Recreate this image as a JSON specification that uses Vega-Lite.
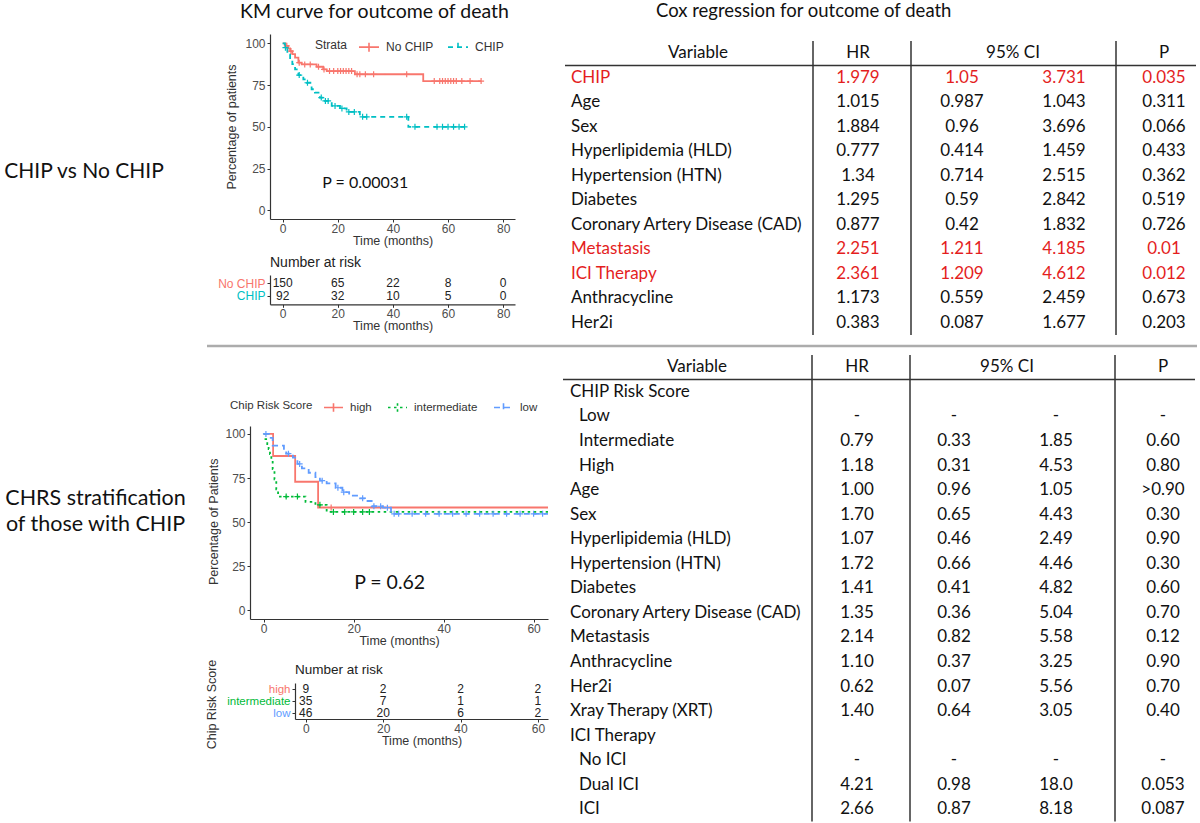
{
  "$schema": "https://vega.github.io/schema/vega-lite/v6.json",
  "padding": 0,
  "background": "white",
  "datasets": {
    "km1": [
      {"g":"No CHIP","t":0,"s":100},{"g":"No CHIP","t":1,"s":98.5},{"g":"No CHIP","t":2,"s":97},{"g":"No CHIP","t":2.7,"s":95.4},{"g":"No CHIP","t":3.5,"s":93.5},{"g":"No CHIP","t":4.5,"s":91.4},{"g":"No CHIP","t":5.7,"s":88.4},{"g":"No CHIP","t":6.9,"s":87.4},{"g":"No CHIP","t":12.3,"s":86},{"g":"No CHIP","t":14.7,"s":84.4},{"g":"No CHIP","t":16,"s":83.4},{"g":"No CHIP","t":26.2,"s":81.5},{"g":"No CHIP","t":51,"s":77.4},{"g":"No CHIP","t":72,"s":77.4},
      {"g":"CHIP","t":0,"s":100},{"g":"CHIP","t":0.8,"s":97.4},{"g":"CHIP","t":1.7,"s":93.4},{"g":"CHIP","t":2.7,"s":90.4},{"g":"CHIP","t":3.5,"s":87.5},{"g":"CHIP","t":4.5,"s":84.4},{"g":"CHIP","t":5.7,"s":81},{"g":"CHIP","t":7.5,"s":78.4},{"g":"CHIP","t":8.7,"s":76.4},{"g":"CHIP","t":10.5,"s":72.5},{"g":"CHIP","t":11.7,"s":70.5},{"g":"CHIP","t":13.5,"s":67.5},{"g":"CHIP","t":15.3,"s":65.5},{"g":"CHIP","t":17.8,"s":62.5},{"g":"CHIP","t":20.8,"s":61},{"g":"CHIP","t":23.2,"s":58.9},{"g":"CHIP","t":28,"s":56},{"g":"CHIP","t":45.6,"s":50},{"g":"CHIP","t":66,"s":50}
    ],
    "km1c": [
      {"g":"No CHIP","t":1.5,"s":98.5},{"g":"No CHIP","t":3,"s":95.4},{"g":"No CHIP","t":6,"s":88.4},{"g":"No CHIP","t":8,"s":87.4},{"g":"No CHIP","t":10,"s":87.4},{"g":"No CHIP","t":13,"s":86},{"g":"No CHIP","t":15,"s":84.4},{"g":"No CHIP","t":17,"s":83.4},{"g":"No CHIP","t":18.5,"s":83.4},{"g":"No CHIP","t":20,"s":83.4},{"g":"No CHIP","t":21,"s":83.4},{"g":"No CHIP","t":22,"s":83.4},{"g":"No CHIP","t":23,"s":83.4},{"g":"No CHIP","t":24,"s":83.4},{"g":"No CHIP","t":25,"s":83.4},{"g":"No CHIP","t":27,"s":81.5},{"g":"No CHIP","t":28,"s":81.5},{"g":"No CHIP","t":30,"s":81.5},{"g":"No CHIP","t":33,"s":81.5},{"g":"No CHIP","t":45,"s":81.5},{"g":"No CHIP","t":55,"s":77.4},{"g":"No CHIP","t":57,"s":77.4},{"g":"No CHIP","t":58,"s":77.4},{"g":"No CHIP","t":59,"s":77.4},{"g":"No CHIP","t":60,"s":77.4},{"g":"No CHIP","t":61,"s":77.4},{"g":"No CHIP","t":62,"s":77.4},{"g":"No CHIP","t":63,"s":77.4},{"g":"No CHIP","t":65,"s":77.4},{"g":"No CHIP","t":68,"s":77.4},{"g":"No CHIP","t":72,"s":77.4},
      {"g":"CHIP","t":1,"s":97.4},{"g":"CHIP","t":6,"s":81},{"g":"CHIP","t":9,"s":76.4},{"g":"CHIP","t":14,"s":67.5},{"g":"CHIP","t":15.5,"s":65.5},{"g":"CHIP","t":16.5,"s":65.5},{"g":"CHIP","t":19,"s":62.5},{"g":"CHIP","t":21.5,"s":61},{"g":"CHIP","t":24,"s":58.9},{"g":"CHIP","t":26,"s":58.9},{"g":"CHIP","t":29,"s":56},{"g":"CHIP","t":30.5,"s":56},{"g":"CHIP","t":45,"s":56},{"g":"CHIP","t":48,"s":50},{"g":"CHIP","t":56,"s":50},{"g":"CHIP","t":58,"s":50},{"g":"CHIP","t":60,"s":50},{"g":"CHIP","t":62,"s":50},{"g":"CHIP","t":64,"s":50},{"g":"CHIP","t":66,"s":50}
    ],
    "km2": [
      {"g":"high","t":0,"s":100},{"g":"high","t":2.1,"s":87.5},{"g":"high","t":7,"s":72.9},{"g":"high","t":12.1,"s":58.3},{"g":"high","t":63.2,"s":58.3},
      {"g":"intermediate","t":0,"s":100},{"g":"intermediate","t":0.4,"s":97.1},{"g":"intermediate","t":0.8,"s":94.3},{"g":"intermediate","t":1.1,"s":91.4},{"g":"intermediate","t":1.4,"s":88.6},{"g":"intermediate","t":1.7,"s":85.7},{"g":"intermediate","t":2,"s":80},{"g":"intermediate","t":2.4,"s":74.3},{"g":"intermediate","t":2.8,"s":68.6},{"g":"intermediate","t":3.2,"s":64.5},{"g":"intermediate","t":9.3,"s":61.5},{"g":"intermediate","t":11.5,"s":59.8},{"g":"intermediate","t":14,"s":55.8},{"g":"intermediate","t":63.2,"s":55.8},
      {"g":"low","t":0,"s":100},{"g":"low","t":1.2,"s":97.8},{"g":"low","t":2,"s":93.4},{"g":"low","t":4.5,"s":91},{"g":"low","t":5,"s":88.8},{"g":"low","t":6.5,"s":86.6},{"g":"low","t":7.5,"s":83},{"g":"low","t":8.5,"s":80.5},{"g":"low","t":10,"s":78},{"g":"low","t":11.5,"s":75.5},{"g":"low","t":12.5,"s":73.5},{"g":"low","t":14,"s":72},{"g":"low","t":16,"s":69.5},{"g":"low","t":17.5,"s":67},{"g":"low","t":19,"s":65},{"g":"low","t":21,"s":63.5},{"g":"low","t":22.5,"s":62},{"g":"low","t":24,"s":59},{"g":"low","t":26.5,"s":58.2},{"g":"low","t":28.3,"s":54.7},{"g":"low","t":63.2,"s":54.7}
    ],
    "km2c": [
      {"g":"high","t":15,"s":58.3},
      {"g":"intermediate","t":5,"s":64.5},{"g":"intermediate","t":7.5,"s":64.5},{"g":"intermediate","t":12.5,"s":59.8},{"g":"intermediate","t":15.5,"s":55.8},{"g":"intermediate","t":18,"s":55.8},{"g":"intermediate","t":20,"s":55.8},{"g":"intermediate","t":22,"s":55.8},{"g":"intermediate","t":23.5,"s":55.8},
      {"g":"low","t":0.5,"s":100},{"g":"low","t":5.5,"s":88.8},{"g":"low","t":8,"s":83},{"g":"low","t":13,"s":73.5},{"g":"low","t":16.5,"s":69.5},{"g":"low","t":17.8,"s":67},{"g":"low","t":22,"s":63.5},{"g":"low","t":24.5,"s":59},{"g":"low","t":26,"s":59},{"g":"low","t":27.5,"s":58.2},{"g":"low","t":29,"s":54.7},{"g":"low","t":30,"s":54.7},{"g":"low","t":33,"s":54.7},{"g":"low","t":36,"s":54.7},{"g":"low","t":39,"s":54.7},{"g":"low","t":42,"s":54.7},{"g":"low","t":45,"s":54.7},{"g":"low","t":48,"s":54.7},{"g":"low","t":51,"s":54.7},{"g":"low","t":54,"s":54.7},{"g":"low","t":57,"s":54.7},{"g":"low","t":60,"s":54.7},{"g":"low","t":62,"s":54.7}
    ],
    "risk1": [
      {"g":"No CHIP","t":0,"n":150},{"g":"No CHIP","t":20,"n":65},{"g":"No CHIP","t":40,"n":22},{"g":"No CHIP","t":60,"n":8},{"g":"No CHIP","t":80,"n":0},
      {"g":"CHIP","t":0,"n":92},{"g":"CHIP","t":20,"n":32},{"g":"CHIP","t":40,"n":10},{"g":"CHIP","t":60,"n":5},{"g":"CHIP","t":80,"n":0}
    ],
    "risk2": [
      {"g":"high","t":0,"n":9},{"g":"high","t":20,"n":2},{"g":"high","t":40,"n":2},{"g":"high","t":60,"n":2},
      {"g":"intermediate","t":0,"n":35},{"g":"intermediate","t":20,"n":7},{"g":"intermediate","t":40,"n":1},{"g":"intermediate","t":60,"n":1},
      {"g":"low","t":0,"n":46},{"g":"low","t":20,"n":20},{"g":"low","t":40,"n":6},{"g":"low","t":60,"n":2}
    ],
    "cox1": [
      {"v":"CHIP","hr":"1.979","lo":"1.05","hi":"3.731","p":"0.035"},
      {"v":"Age","hr":"1.015","lo":"0.987","hi":"1.043","p":"0.311"},
      {"v":"Sex","hr":"1.884","lo":"0.96","hi":"3.696","p":"0.066"},
      {"v":"Hyperlipidemia (HLD)","hr":"0.777","lo":"0.414","hi":"1.459","p":"0.433"},
      {"v":"Hypertension (HTN)","hr":"1.34","lo":"0.714","hi":"2.515","p":"0.362"},
      {"v":"Diabetes","hr":"1.295","lo":"0.59","hi":"2.842","p":"0.519"},
      {"v":"Coronary Artery Disease (CAD)","hr":"0.877","lo":"0.42","hi":"1.832","p":"0.726"},
      {"v":"Metastasis","hr":"2.251","lo":"1.211","hi":"4.185","p":"0.01"},
      {"v":"ICI Therapy","hr":"2.361","lo":"1.209","hi":"4.612","p":"0.012"},
      {"v":"Anthracycline","hr":"1.173","lo":"0.559","hi":"2.459","p":"0.673"},
      {"v":"Her2i","hr":"0.383","lo":"0.087","hi":"1.677","p":"0.203"}
    ],
    "cox2": [
      {"v":"CHIP Risk Score","lvl":0,"hr":"","lo":"","hi":"","p":""},
      {"v":"Low","lvl":1,"hr":"-","lo":"-","hi":"-","p":"-"},
      {"v":"Intermediate","lvl":1,"hr":"0.79","lo":"0.33","hi":"1.85","p":"0.60"},
      {"v":"High","lvl":1,"hr":"1.18","lo":"0.31","hi":"4.53","p":"0.80"},
      {"v":"Age","lvl":0,"hr":"1.00","lo":"0.96","hi":"1.05","p":">0.90"},
      {"v":"Sex","lvl":0,"hr":"1.70","lo":"0.65","hi":"4.43","p":"0.30"},
      {"v":"Hyperlipidemia (HLD)","lvl":0,"hr":"1.07","lo":"0.46","hi":"2.49","p":"0.90"},
      {"v":"Hypertension (HTN)","lvl":0,"hr":"1.72","lo":"0.66","hi":"4.46","p":"0.30"},
      {"v":"Diabetes","lvl":0,"hr":"1.41","lo":"0.41","hi":"4.82","p":"0.60"},
      {"v":"Coronary Artery Disease (CAD)","lvl":0,"hr":"1.35","lo":"0.36","hi":"5.04","p":"0.70"},
      {"v":"Metastasis","lvl":0,"hr":"2.14","lo":"0.82","hi":"5.58","p":"0.12"},
      {"v":"Anthracycline","lvl":0,"hr":"1.10","lo":"0.37","hi":"3.25","p":"0.90"},
      {"v":"Her2i","lvl":0,"hr":"0.62","lo":"0.07","hi":"5.56","p":"0.70"},
      {"v":"Xray Therapy (XRT)","lvl":0,"hr":"1.40","lo":"0.64","hi":"3.05","p":"0.40"},
      {"v":"ICI Therapy","lvl":0,"hr":"","lo":"","hi":"","p":""},
      {"v":"No ICI","lvl":1,"hr":"-","lo":"-","hi":"-","p":"-"},
      {"v":"Dual ICI","lvl":1,"hr":"4.21","lo":"0.98","hi":"18.0","p":"0.053"},
      {"v":"ICI","lvl":1,"hr":"2.66","lo":"0.87","hi":"8.18","p":"0.087"}
    ]
  },
  "concat": [
    {
      "concat": [
        {
          "width": 168, "height": 344,
          "data": {"values": [{"t": "CHIP vs No CHIP"}]},
          "mark": {"type": "text", "font": "Lato", "fontSize": 21, "color": "#111", "baseline": "middle", "align": "center"},
          "encoding": {"text": {"field": "t"}}
        },
        {
          "concat": [
            {"width": 1, "height": 1, "data": {"values": []}, "mark": "point"},
            {
              "concat": [
                {
                  "width": 245, "height": 185,
                  "title": {"text": "KM curve for outcome of death", "anchor": "start", "frame": "group", "dx": -30, "fontSize": 19.5, "offset": 11.5},
                  "layer": [
                    {
                      "data": {"name": "km1"},
                      "mark": {"type": "line", "interpolate": "step-after", "strokeWidth": 1.8, "clip": true},
                      "encoding": {
                        "x": {"field": "t", "type": "quantitative", "scale": {"domain": [-4.6, 84.3], "nice": false, "zero": false}, "axis": {"values": [0, 20, 40, 60, 80], "title": "Time (months)", "labelPadding": 1, "titlePadding": 0}},
                        "y": {"field": "s", "type": "quantitative", "scale": {"domain": [-5.2, 105.6], "nice": false, "zero": false}, "axis": {"values": [0, 25, 50, 75, 100], "title": "Percentage of patients", "titlePadding": 6}},
                        "color": {"field": "g", "type": "nominal", "scale": {"domain": ["No CHIP", "CHIP"], "range": ["#F8766D", "#00BFC4"]},
                          "legend": {"title": "Strata", "orient": "none", "legendX": 45, "legendY": 2, "direction": "horizontal", "columns": 2, "titleOrient": "left", "symbolType": "M-1,0H1M0,-0.45V0.45", "symbolSize": 400, "symbolStrokeWidth": 1.6, "labelFontSize": 12, "titleFontSize": 12, "columnPadding": 10, "labelOffset": 6, "titlePadding": 10}},
                        "strokeDash": {"field": "g", "type": "nominal", "scale": {"domain": ["No CHIP", "CHIP"], "range": [[1, 0], [5, 4]]},
                          "legend": {"title": "Strata", "orient": "none", "legendX": 45, "legendY": 2, "direction": "horizontal", "columns": 2, "titleOrient": "left", "symbolType": "M-1,0H1M0,-0.45V0.45", "symbolSize": 400, "symbolStrokeWidth": 1.6, "labelFontSize": 12, "titleFontSize": 12, "columnPadding": 10, "labelOffset": 6, "titlePadding": 10}}
                      }
                    },
                    {
                      "data": {"name": "km1c"},
                      "mark": {"type": "point", "shape": "M-1,0H1M0,-1V1", "filled": false, "size": 36, "strokeWidth": 1.2, "opacity": 1, "clip": true},
                      "encoding": {
                        "x": {"field": "t", "type": "quantitative"},
                        "y": {"field": "s", "type": "quantitative"},
                        "color": {"field": "g", "type": "nominal"}
                      }
                    },
                    {
                      "data": {"values": [{}]},
                      "mark": {"type": "text", "font": "Lato", "fontSize": 16, "color": "#111"},
                      "encoding": {"x": {"datum": 30}, "y": {"datum": 16.5}, "text": {"value": "P = 0.00031"}}
                    }
                  ]
                },
                {
                  "width": 245, "height": 29.3,
                  "title": {"text": "Number at risk", "anchor": "start", "frame": "group", "fontSize": 14, "offset": 5, "font": "Liberation Sans", "color": "#222"},
                  "data": {"name": "risk1"},
                  "mark": {"type": "text", "font": "Liberation Sans", "fontSize": 12, "color": "#222", "baseline": "middle"},
                  "encoding": {
                    "x": {"field": "t", "type": "quantitative", "scale": {"domain": [-4.6, 84.3], "nice": false, "zero": false}, "axis": {"values": [0, 20, 40, 60, 80], "title": "Time (months)", "labelPadding": 1, "titlePadding": 0}},
                    "y": {"field": "g", "type": "nominal", "sort": null, "scale": {"type": "point", "domain": ["No CHIP", "CHIP"], "padding": 0.654},
                      "axis": {"title": null, "labelFontSize": 12, "labelColor": {"condition": {"test": "datum.value === 'No CHIP'", "value": "#F8766D"}, "value": "#00BFC4"}}},
                    "text": {"field": "n"}
                  }
                }
              ],
              "columns": 1, "spacing": 9, "align": "none",
              "resolve": {"scale": {"color": "independent", "strokeDash": "independent"}, "legend": {"color": "independent", "strokeDash": "independent"}}
            }
          ],
          "columns": 1, "spacing": 1, "align": "none",
          "resolve": {"scale": {"color": "independent", "strokeDash": "independent"}, "legend": {"color": "independent", "strokeDash": "independent"}}
        },
        {
          "concat": [
            {"width": 1, "height": 1, "data": {"values": []}, "mark": "point"},
            {
              "width": 631, "height": 294,
              "title": {"text": "Cox regression for outcome of death", "anchor": "start", "frame": "group", "dx": 91, "fontSize": 18.5, "offset": 19.5},
              "data": {"name": "cox1"},
              "layer": [
                {"data": {"values": [{}]}, "mark": {"type": "rule", "color": "#333", "strokeWidth": 1.5}, "encoding": {"x": {"datum": 248, "type": "quantitative", "scale": {"domain": [0, 631], "nice": false, "zero": false}, "axis": null}}},
                {"data": {"values": [{}]}, "mark": {"type": "rule", "color": "#333", "strokeWidth": 1.5}, "encoding": {"x": {"datum": 346, "type": "quantitative", "axis": null}}},
                {"data": {"values": [{}]}, "mark": {"type": "rule", "color": "#333", "strokeWidth": 1.5}, "encoding": {"x": {"datum": 551, "type": "quantitative", "axis": null}}},
                {"data": {"values": [{}]}, "mark": {"type": "rule", "color": "#333", "strokeWidth": 1.5}, "encoding": {"y": {"datum": "Variable", "type": "nominal", "bandPosition": 1, "axis": null,
                  "scale": {"type": "band", "domain": ["Variable", "CHIP", "Age", "Sex", "Hyperlipidemia (HLD)", "Hypertension (HTN)", "Diabetes", "Coronary Artery Disease (CAD)", "Metastasis", "ICI Therapy", "Anthracycline", "Her2i"], "paddingInner": 0, "paddingOuter": 0}}}},
                {"data": {"values": [{}]}, "mark": {"type": "text", "font": "Lato", "fontSize": 17, "color": "#111", "align": "center", "baseline": "middle"}, "encoding": {"x": {"datum": 133, "type": "quantitative", "axis": null}, "y": {"datum": "Variable", "type": "nominal", "axis": null}, "text": {"value": "Variable"}}},
                {"data": {"values": [{}]}, "mark": {"type": "text", "font": "Lato", "fontSize": 17, "color": "#111", "align": "center", "baseline": "middle"}, "encoding": {"x": {"datum": 293, "type": "quantitative", "axis": null}, "y": {"datum": "Variable", "type": "nominal", "axis": null}, "text": {"value": "HR"}}},
                {"data": {"values": [{}]}, "mark": {"type": "text", "font": "Lato", "fontSize": 17, "color": "#111", "align": "center", "baseline": "middle"}, "encoding": {"x": {"datum": 448, "type": "quantitative", "axis": null}, "y": {"datum": "Variable", "type": "nominal", "axis": null}, "text": {"value": "95% CI"}}},
                {"data": {"values": [{}]}, "mark": {"type": "text", "font": "Lato", "fontSize": 17, "color": "#111", "align": "center", "baseline": "middle"}, "encoding": {"x": {"datum": 599, "type": "quantitative", "axis": null}, "y": {"datum": "Variable", "type": "nominal", "axis": null}, "text": {"value": "P"}}},
                {"mark": {"type": "text", "font": "Lato", "fontSize": 17, "align": "left", "baseline": "middle"}, "encoding": {"x": {"datum": 6, "type": "quantitative", "axis": null}, "y": {"field": "v", "type": "nominal", "axis": null}, "text": {"field": "v"}, "color": {"condition": {"test": "datum.p !== '' && toNumber(datum.p) < 0.05", "value": "#e41e1e"}, "value": "#111111"}}},
                {"mark": {"type": "text", "font": "Lato", "fontSize": 17, "align": "center", "baseline": "middle"}, "encoding": {"x": {"datum": 293, "type": "quantitative", "axis": null}, "y": {"field": "v", "type": "nominal", "axis": null}, "text": {"field": "hr"}, "color": {"condition": {"test": "datum.p !== '' && toNumber(datum.p) < 0.05", "value": "#e41e1e"}, "value": "#111111"}}},
                {"mark": {"type": "text", "font": "Lato", "fontSize": 17, "align": "center", "baseline": "middle"}, "encoding": {"x": {"datum": 397, "type": "quantitative", "axis": null}, "y": {"field": "v", "type": "nominal", "axis": null}, "text": {"field": "lo"}, "color": {"condition": {"test": "datum.p !== '' && toNumber(datum.p) < 0.05", "value": "#e41e1e"}, "value": "#111111"}}},
                {"mark": {"type": "text", "font": "Lato", "fontSize": 17, "align": "center", "baseline": "middle"}, "encoding": {"x": {"datum": 499, "type": "quantitative", "axis": null}, "y": {"field": "v", "type": "nominal", "axis": null}, "text": {"field": "hi"}, "color": {"condition": {"test": "datum.p !== '' && toNumber(datum.p) < 0.05", "value": "#e41e1e"}, "value": "#111111"}}},
                {"mark": {"type": "text", "font": "Lato", "fontSize": 17, "align": "center", "baseline": "middle"}, "encoding": {"x": {"datum": 599, "type": "quantitative", "axis": null}, "y": {"field": "v", "type": "nominal", "axis": null}, "text": {"field": "p"}, "color": {"condition": {"test": "datum.p !== '' && toNumber(datum.p) < 0.05", "value": "#e41e1e"}, "value": "#111111"}}}
              ]
            }
          ],
          "columns": 1, "spacing": 1, "align": "none"
        }
      ],
      "columns": 3, "spacing": 49, "align": "none",
      "resolve": {"scale": {"color": "independent", "strokeDash": "independent"}, "legend": {"color": "independent", "strokeDash": "independent"}}
    },
    {
      "concat": [
        {"width": 205, "height": 1, "data": {"values": []}, "mark": "point"},
        {
          "width": 990, "height": 7.7,
          "data": {"values": [{}]},
          "mark": {"type": "rule", "color": "#acacac", "strokeWidth": 2.5},
          "encoding": {"y": {"datum": 1, "type": "quantitative", "scale": {"domain": [0, 1], "nice": false}, "axis": null}}
        }
      ],
      "columns": 2, "spacing": 0, "align": "none"
    },
    {
      "concat": [
        {
          "width": 191, "height": 288,
          "data": {"values": [{"t": "CHRS stratification\nof those with CHIP"}]},
          "mark": {"type": "text", "font": "Lato", "fontSize": 21.5, "color": "#111", "lineBreak": "\n", "lineHeight": 26, "baseline": "middle", "align": "center"},
          "encoding": {"text": {"field": "t"}}
        },
        {
          "concat": [
            {"width": 1, "height": 29.3, "data": {"values": []}, "mark": "point"},
            {
              "title": {"text": "Percentage of Patients", "orient": "left", "anchor": "middle", "frame": "bounds", "offset": 3, "font": "Liberation Sans", "fontSize": 12.5, "color": "#333"},
              "concat": [
                {"width": 1, "height": 1, "data": {"values": []}, "mark": "point"},
                {
                  "width": 298, "height": 193,
                  "layer": [
                    {
                      "data": {"name": "km2"},
                      "mark": {"type": "line", "interpolate": "step-after", "strokeWidth": 1.8, "clip": true},
                      "encoding": {
                        "x": {"field": "t", "type": "quantitative", "scale": {"domain": [-3.04, 63.2], "nice": false, "zero": false}, "axis": {"values": [0, 20, 40, 60], "title": "Time (months)", "labelPadding": 1, "titlePadding": 0}},
                        "y": {"field": "s", "type": "quantitative", "scale": {"domain": [-4.9, 104.5], "nice": false, "zero": false}, "axis": {"values": [0, 25, 50, 75, 100], "title": null}},
                        "color": {"field": "g", "type": "nominal", "scale": {"domain": ["high", "intermediate", "low"], "range": ["#F8766D", "#00BA38", "#619CFF"]},
                          "legend": {"title": "Chip Risk Score", "orient": "none", "legendX": -20, "legendY": -29, "direction": "horizontal", "columns": 3, "titleOrient": "left", "symbolType": "M-1,0H1M0,-0.45V0.45", "symbolSize": 361, "symbolStrokeWidth": 1.6, "labelFontSize": 11.5, "titleFontSize": 11.5, "columnPadding": 12, "labelOffset": 6, "titlePadding": 10}},
                        "strokeDash": {"field": "g", "type": "nominal", "scale": {"domain": ["high", "intermediate", "low"], "range": [[1, 0], [2.5, 3.5], [6, 4]]},
                          "legend": {"title": "Chip Risk Score", "orient": "none", "legendX": -20, "legendY": -29, "direction": "horizontal", "columns": 3, "titleOrient": "left", "symbolType": "M-1,0H1M0,-0.45V0.45", "symbolSize": 361, "symbolStrokeWidth": 1.6, "labelFontSize": 11.5, "titleFontSize": 11.5, "columnPadding": 12, "labelOffset": 6, "titlePadding": 10}}
                      }
                    },
                    {
                      "data": {"name": "km2c"},
                      "mark": {"type": "point", "shape": "M-1,0H1M0,-1V1", "filled": false, "size": 36, "strokeWidth": 1.2, "opacity": 1, "clip": true},
                      "encoding": {
                        "x": {"field": "t", "type": "quantitative"},
                        "y": {"field": "s", "type": "quantitative"},
                        "color": {"field": "g", "type": "nominal"}
                      }
                    },
                    {
                      "data": {"values": [{}]},
                      "mark": {"type": "text", "font": "Lato", "fontSize": 19.5, "color": "#111"},
                      "encoding": {"x": {"datum": 28}, "y": {"datum": 15.7}, "text": {"value": "P = 0.62"}}
                    }
                  ]
                }
              ],
              "columns": 2, "spacing": 0, "align": "none",
              "resolve": {"scale": {"color": "independent", "strokeDash": "independent"}, "legend": {"color": "independent", "strokeDash": "independent"}}
            },
            {
              "title": {"text": "Chip Risk Score", "orient": "left", "anchor": "middle", "frame": "bounds", "offset": 4.5, "font": "Liberation Sans", "fontSize": 12.5, "color": "#333"},
              "concat": [
                {"width": 3, "height": 1, "data": {"values": []}, "mark": "point"},
                {
                  "width": 253, "height": 36,
                  "title": {"text": "Number at risk", "anchor": "start", "frame": "group", "fontSize": 13.5, "offset": 7, "font": "Liberation Sans", "color": "#222"},
                  "data": {"name": "risk2"},
                  "mark": {"type": "text", "font": "Liberation Sans", "fontSize": 12, "color": "#222", "baseline": "middle"},
                  "encoding": {
                    "x": {"field": "t", "type": "quantitative", "scale": {"domain": [-2.77, 62.6], "nice": false, "zero": false}, "axis": {"values": [0, 20, 40, 60], "title": "Time (months)", "labelPadding": 1, "titlePadding": 0}},
                    "y": {"field": "g", "type": "nominal", "sort": null, "scale": {"type": "point", "domain": ["high", "intermediate", "low"], "padding": 0.5},
                      "axis": {"title": null, "labelFontSize": 11.5, "labelColor": {"condition": [{"test": "datum.value === 'high'", "value": "#F8766D"}, {"test": "datum.value === 'intermediate'", "value": "#00BA38"}], "value": "#619CFF"}}},
                    "text": {"field": "n"}
                  }
                }
              ],
              "columns": 2, "spacing": 0, "align": "none"
            }
          ],
          "columns": 1, "spacing": 12, "align": "none",
          "resolve": {"scale": {"color": "independent", "strokeDash": "independent"}, "legend": {"color": "independent", "strokeDash": "independent"}}
        },
        {
          "width": 632, "height": 466.6,
          "data": {"name": "cox2"},
          "layer": [
            {"data": {"values": [{}]}, "mark": {"type": "rule", "color": "#333", "strokeWidth": 1.5}, "encoding": {"x": {"datum": 249, "type": "quantitative", "scale": {"domain": [0, 632], "nice": false, "zero": false}, "axis": null}}},
            {"data": {"values": [{}]}, "mark": {"type": "rule", "color": "#333", "strokeWidth": 1.5}, "encoding": {"x": {"datum": 347, "type": "quantitative", "axis": null}}},
            {"data": {"values": [{}]}, "mark": {"type": "rule", "color": "#333", "strokeWidth": 1.5}, "encoding": {"x": {"datum": 552, "type": "quantitative", "axis": null}}},
            {"data": {"values": [{}]}, "mark": {"type": "rule", "color": "#333", "strokeWidth": 1.5}, "encoding": {"y": {"datum": "Variable", "type": "nominal", "bandPosition": 1, "axis": null,
              "scale": {"type": "band", "domain": ["Variable", "CHIP Risk Score", "Low", "Intermediate", "High", "Age", "Sex", "Hyperlipidemia (HLD)", "Hypertension (HTN)", "Diabetes", "Coronary Artery Disease (CAD)", "Metastasis", "Anthracycline", "Her2i", "Xray Therapy (XRT)", "ICI Therapy", "No ICI", "Dual ICI", "ICI"], "paddingInner": 0, "paddingOuter": 0}}}},
            {"data": {"values": [{}]}, "mark": {"type": "text", "font": "Lato", "fontSize": 17, "color": "#111", "align": "center", "baseline": "middle"}, "encoding": {"x": {"datum": 134, "type": "quantitative", "axis": null}, "y": {"datum": "Variable", "type": "nominal", "axis": null}, "text": {"value": "Variable"}}},
            {"data": {"values": [{}]}, "mark": {"type": "text", "font": "Lato", "fontSize": 17, "color": "#111", "align": "center", "baseline": "middle"}, "encoding": {"x": {"datum": 294, "type": "quantitative", "axis": null}, "y": {"datum": "Variable", "type": "nominal", "axis": null}, "text": {"value": "HR"}}},
            {"data": {"values": [{}]}, "mark": {"type": "text", "font": "Lato", "fontSize": 17, "color": "#111", "align": "center", "baseline": "middle"}, "encoding": {"x": {"datum": 444, "type": "quantitative", "axis": null}, "y": {"datum": "Variable", "type": "nominal", "axis": null}, "text": {"value": "95% CI"}}},
            {"data": {"values": [{}]}, "mark": {"type": "text", "font": "Lato", "fontSize": 17, "color": "#111", "align": "center", "baseline": "middle"}, "encoding": {"x": {"datum": 600, "type": "quantitative", "axis": null}, "y": {"datum": "Variable", "type": "nominal", "axis": null}, "text": {"value": "P"}}},
            {"transform": [{"filter": "datum.lvl != 1"}], "mark": {"type": "text", "font": "Lato", "fontSize": 17, "align": "left", "baseline": "middle", "color": "#111"}, "encoding": {"x": {"datum": 7, "type": "quantitative", "axis": null}, "y": {"field": "v", "type": "nominal", "axis": null}, "text": {"field": "v"}}},
            {"transform": [{"filter": "datum.lvl == 1"}], "mark": {"type": "text", "font": "Lato", "fontSize": 17, "align": "left", "baseline": "middle", "color": "#111"}, "encoding": {"x": {"datum": 16, "type": "quantitative", "axis": null}, "y": {"field": "v", "type": "nominal", "axis": null}, "text": {"field": "v"}}},
            {"mark": {"type": "text", "font": "Lato", "fontSize": 17, "align": "center", "baseline": "middle"}, "encoding": {"x": {"datum": 294, "type": "quantitative", "axis": null}, "y": {"field": "v", "type": "nominal", "axis": null}, "text": {"field": "hr"}, "color": {"condition": {"test": "datum.p !== '' && toNumber(datum.p) < 0.05", "value": "#e41e1e"}, "value": "#111111"}}},
            {"mark": {"type": "text", "font": "Lato", "fontSize": 17, "align": "center", "baseline": "middle"}, "encoding": {"x": {"datum": 391, "type": "quantitative", "axis": null}, "y": {"field": "v", "type": "nominal", "axis": null}, "text": {"field": "lo"}, "color": {"condition": {"test": "datum.p !== '' && toNumber(datum.p) < 0.05", "value": "#e41e1e"}, "value": "#111111"}}},
            {"mark": {"type": "text", "font": "Lato", "fontSize": 17, "align": "center", "baseline": "middle"}, "encoding": {"x": {"datum": 493, "type": "quantitative", "axis": null}, "y": {"field": "v", "type": "nominal", "axis": null}, "text": {"field": "hi"}, "color": {"condition": {"test": "datum.p !== '' && toNumber(datum.p) < 0.05", "value": "#e41e1e"}, "value": "#111111"}}},
            {"mark": {"type": "text", "font": "Lato", "fontSize": 17, "align": "center", "baseline": "middle"}, "encoding": {"x": {"datum": 600, "type": "quantitative", "axis": null}, "y": {"field": "v", "type": "nominal", "axis": null}, "text": {"field": "p"}, "color": {"condition": {"test": "datum.p !== '' && toNumber(datum.p) < 0.05", "value": "#e41e1e"}, "value": "#111111"}}}
          ]
        }
      ],
      "columns": 3, "spacing": 14, "align": "none",
      "resolve": {"scale": {"color": "independent", "strokeDash": "independent"}, "legend": {"color": "independent", "strokeDash": "independent"}}
    }
  ],
  "columns": 1, "spacing": 0, "align": "none",
  "resolve": {"scale": {"color": "independent", "strokeDash": "independent"}, "legend": {"color": "independent", "strokeDash": "independent"}},
  "config": {
    "view": {"stroke": null},
    "axis": {"labelFont": "Liberation Sans", "titleFont": "Liberation Sans", "labelColor": "#4d4d4d", "titleColor": "#333", "domainColor": "#333", "tickColor": "#333", "grid": false, "titleFontWeight": "normal", "labelFontSize": 12, "titleFontSize": 12.5, "tickSize": 3, "labelPadding": 2, "titlePadding": 2, "domainWidth": 1.2, "tickWidth": 1},
    "legend": {"labelFont": "Liberation Sans", "titleFont": "Liberation Sans", "labelColor": "#333", "titleColor": "#333", "titleFontWeight": "normal"},
    "title": {"font": "Lato", "fontWeight": "normal", "color": "#111"}
  }
}
